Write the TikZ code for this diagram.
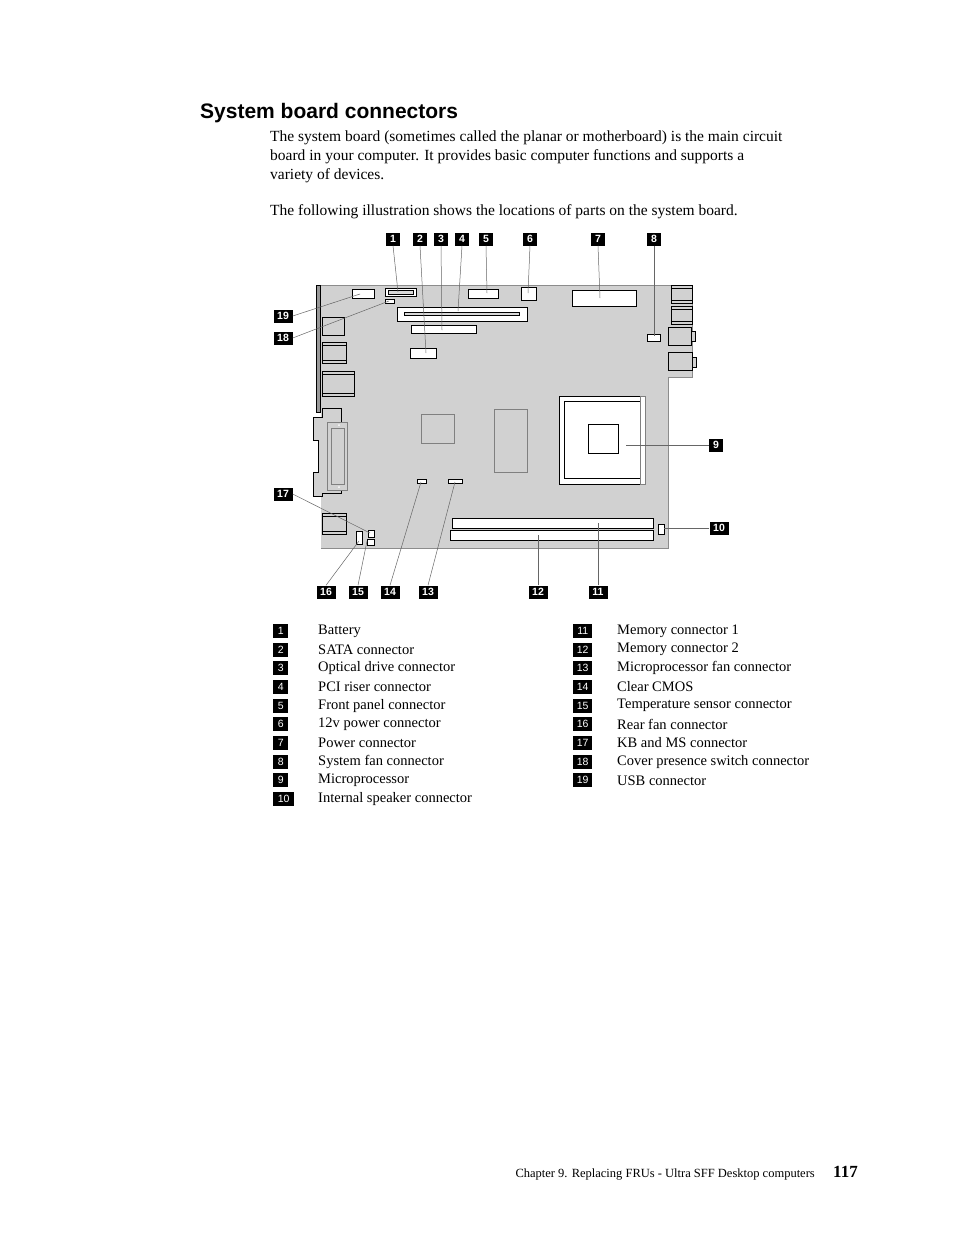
\documentclass[tikz,border=0pt]{standalone}
\usepackage{fontspec}
\setmainfont{Liberation Serif}
\setsansfont{Liberation Sans}
\begin{document}
\begin{tikzpicture}[x=1pt,y=-1pt,
  lab/.style={fill=black,text=white,font=\sffamily\bfseries\fontsize{10.5}{11}\selectfont,inner sep=0pt,minimum width=14pt,minimum height=13pt},
  llab/.style={fill=black,text=white,font=\sffamily\fontsize{10.5}{11}\selectfont,inner sep=0pt,minimum width=19pt,minimum height=14pt},
  lead/.style={draw=black!60,line width=0.5pt},
  part/.style={draw=black,fill=white,line width=0.6pt},
  body/.style={anchor=base west,inner sep=0pt,font=\fontsize{15.5}{18}\selectfont},
  leg/.style={anchor=west,inner sep=0pt,font=\fontsize{14.5}{17}\selectfont}]
\useasboundingbox (0,0) rectangle (954,1235);
\node[anchor=base west,inner sep=0pt,font=\sffamily\bfseries\fontsize{21}{24}\selectfont] (title) at (200,118) {System board connectors};
\node[body] (p1) at (270,141) {The system board (sometimes called the planar or motherboard) is the main circuit};
\node[body] (p2) at (270,160) {board in your computer. It provides basic computer functions and supports a};
\node[body] (p3) at (270,179) {variety of devices.};
\node[body] (p4) at (270,215) {The following illustration shows the locations of parts on the system board.};
% board
\fill[black!18] (321,285) -- (692,285) -- (692,377) -- (668,377) -- (668,548) -- (321,548) -- cycle;
\draw[black!45,line width=0.8pt] (692,285) -- (692,377) -- (668,377) -- (668,548) -- (321,548);
\draw[black!45,line width=0.6pt] (321,285) -- (692,285);
\draw[fill=black!40,draw=black] (316,285) rectangle (320,412);
% top parts
\draw[part] (352,289) rectangle (374,298);
\draw[part] (385,288) rectangle (416,296); \draw[part,fill=black!15] (388,290) rectangle (413,294);
\draw[part] (385,299) rectangle (394,303);
\draw[part] (397,307) rectangle (527,321); \draw[part,fill=black!15] (404,312) rectangle (519,315);
\draw[part] (411,325) rectangle (476,333);
\draw[part] (410,348) rectangle (436,358);
\draw[part] (468,289) rectangle (498,298);
\draw[part] (521,287) rectangle (536,300);
\draw[part] (572,290) rectangle (636,306);
\draw[part] (647,334) rectangle (660,341);
% right side connectors
\draw[part,fill=black!18] (671,285) rectangle (692,303); \draw (671,288)--(692,288) (671,300)--(692,300);
\draw[part,fill=black!18] (671,306) rectangle (692,324); \draw (671,309)--(692,309) (671,321)--(692,321);
\draw[part,fill=black!18] (668,327) rectangle (691,345); \draw[part,fill=black!18] (691,331) rectangle (695,341);
\draw[part,fill=black!18] (668,352) rectangle (692,370); \draw[part,fill=black!18] (692,357) rectangle (696,367);
% left side connectors
\draw[part,fill=black!18] (322,317) rectangle (344,335);
\draw[part,fill=black!18] (322,342) rectangle (346,363); \draw (322,345)--(346,345) (322,360)--(346,360);
\draw[part,fill=black!18] (322,371) rectangle (354,396); \draw (322,374)--(354,374) (322,393)--(354,393);
\draw[black,line width=0.6pt,fill=black!18] (322,408) -- (341,408) -- (341,422) -- (327,422) -- (327,490) -- (341,490) -- (341,493) -- (322,493) -- (322,496) -- (313,496) -- (313,472) -- (318,472) -- (318,440) -- (313,440) -- (313,417) -- (322,417) -- cycle;
\draw[draw=black!50,fill=black!18] (327,422) rectangle (347,490);
\draw[draw=black!50] (331,428) rectangle (344,484);
\fill[white] (339,425) circle (1pt) (339,487) circle (1pt);
\draw[part,fill=black!18] (322,513) rectangle (346,534); \draw (322,516)--(346,516) (322,531)--(346,531);
% small parts bottom left
\draw[part] (368,530) rectangle (374,537);
\draw[part] (367,539) rectangle (374,545);
\draw[part] (356,531) rectangle (362,544);
\draw[part] (417,479) rectangle (426,483);
\draw[part] (448,479) rectangle (462,483);
% chips
\draw[black!50,line width=0.8pt] (421,414) rectangle (454,443);
\draw[black!50,line width=0.8pt] (494,409) rectangle (527,472);
% CPU socket
\draw[part] (559,396) rectangle (643,484);
\draw[black,line width=0.6pt] (564,401) rectangle (640,478);
\draw[draw=black!50,fill=white] (640,396) rectangle (645,484);
\draw[black,line width=0.6pt] (588,424) rectangle (618,453);
% memory
\draw[part] (452,518) rectangle (653,528);
\draw[part] (450,530) rectangle (653,540);
\draw[part] (658,524) rectangle (664,534);
% labels
\foreach \n/\x/\y in {1/393/239,2/420/239,3/441/239,4/462/239,5/486/239,6/530/239,7/598/239,8/654/239,
  9/716/445,10/719/528,11/598/592,12/538/592,13/428/592,14/390/592,15/358/592,16/326/592,17/283/494,18/283/338,19/283/316}
  \node[lab,minimum width={\ifnum\n>9 19pt\else 14pt\fi}] (L\n) at (\x,\y) {\n};
\coordinate (e1) at (398,292); \coordinate (e2) at (426,353); \coordinate (e3) at (442,330);
\coordinate (e4) at (458,311); \coordinate (e5) at (487,293); \coordinate (e6) at (528,293);
\coordinate (e7) at (600,298); \coordinate (e8) at (654,336);
\coordinate (e9) at (626,445); \coordinate (e10) at (664,528); \coordinate (e11) at (598,523);
\coordinate (e12) at (538,535); \coordinate (e13) at (455,482); \coordinate (e14) at (421,482);
\coordinate (e15) at (367,541); \coordinate (e16) at (359,541); \coordinate (e17) at (370,533);
\coordinate (e18) at (389,301); \coordinate (e19) at (360,294);
\foreach \n in {1,...,8} \draw[lead] (L\n.south) -- (e\n);
\foreach \n in {11,...,16} \draw[lead] (L\n.north) -- (e\n);
\draw[lead] (L9.west) -- (e9); \draw[lead] (L10.west) -- (e10);
\foreach \n in {17,18,19} \draw[lead] (L\n.east) -- (e\n);
% legend
\foreach \n/\t [count=\i from 0] in {1/Battery,2/SATA connector,3/Optical drive connector,4/PCI riser connector,5/Front panel connector,6/12v power connector,7/Power connector,8/System fan connector,9/Microprocessor,10/Internal speaker connector}{
  \node[llab,minimum width={\ifnum\n>9 21pt\else 15pt\fi},anchor=west] (K\n) at (273,631+18.67*\i) {\n};
  \node[leg] (T\n) at (318,631+18.67*\i) {\t};}
\foreach \n/\t [count=\i from 0] in {11/Memory connector 1,12/Memory connector 2,13/Microprocessor fan connector,14/Clear CMOS/Recovery jumper,15/Temperature sensor connector,16/Rear fan connector,17/KB and MS connector,18/Cover presence switch connector,19/USB connector}{
  \node[llab,anchor=west] (K\n) at (573,631+18.67*\i) {\n};
  \node[leg] (T\n) at (617,631+18.67*\i) {\t};}
% footer
\node[anchor=base east,inner sep=0pt,font=\fontsize{12.5}{14}\selectfont] (foot) at (815,1177) {Chapter 9. Replacing FRUs - Ultra SFF Desktop computers};
\node[anchor=base east,inner sep=0pt,font=\bfseries\fontsize{17}{19}\selectfont] (pg) at (858,1177) {117};
\end{tikzpicture}
\end{document}
